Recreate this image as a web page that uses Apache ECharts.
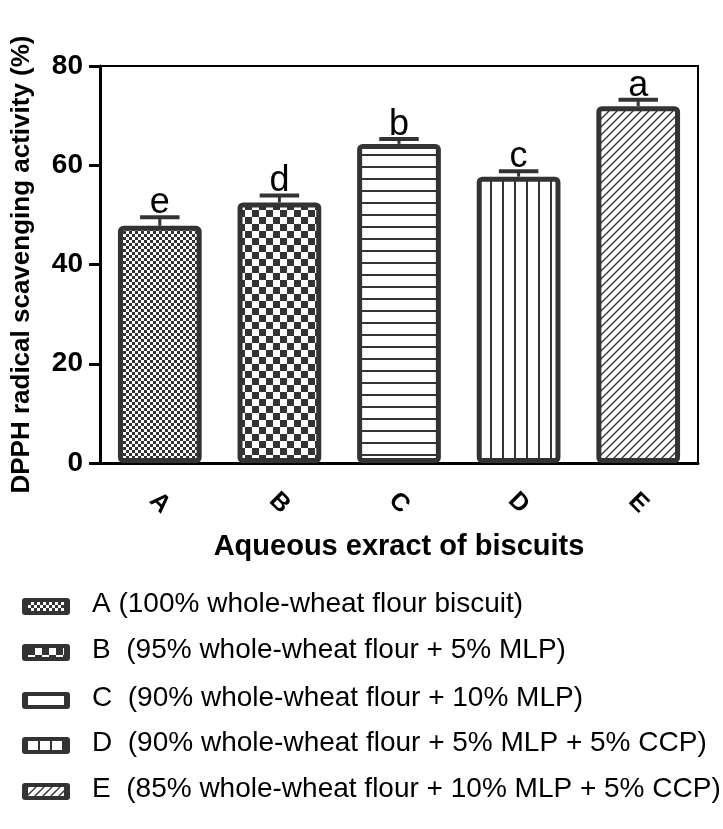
<!DOCTYPE html>
<html>
<head>
<meta charset="utf-8">
<script src="https://cdn.jsdelivr.net/npm/echarts@6/dist/echarts.min.js"></script>
<style>
  html, body { margin: 0; padding: 0; background: #fff; }
  #chart { width: 723px; height: 829px; }
</style>
</head>
<body>
<div id="chart"></div>
<script>
// valores
const categorias = ['A', 'B', 'C', 'D', 'E'];
const medias = [47.8, 52.5, 64.3, 57.7, 71.9];
const desvios = [1.7, 1.4, 1.0, 1.1, 1.3];
const letras = ['e', 'd', 'b', 'c', 'a'];
const legendas = [
  'A (100% whole-wheat flour biscuit)',
  'B  (95% whole-wheat flour + 5% MLP)',
  'C  (90% whole-wheat flour + 10% MLP)',
  'D  (90% whole-wheat flour + 5% MLP + 5% CCP)',
  'E  (85% whole-wheat flour + 10% MLP + 5% CCP)'
];

const ESCURO = '#333333';

// cria um padrão de preenchimento a partir de um canvas
function padrao(tipo) {
  const c = document.createElement('canvas');
  let ctx;
  if (tipo === 'xadrezFino') {
    c.width = 6; c.height = 6;
    ctx = c.getContext('2d');
    ctx.fillStyle = '#fff'; ctx.fillRect(0, 0, 6, 6);
    ctx.fillStyle = ESCURO;
    ctx.fillRect(0, 0, 3, 3); ctx.fillRect(3, 3, 3, 3);
  } else if (tipo === 'xadrez') {
    c.width = 14; c.height = 14;
    ctx = c.getContext('2d');
    ctx.fillStyle = '#fff'; ctx.fillRect(0, 0, 14, 14);
    ctx.fillStyle = ESCURO;
    ctx.fillRect(0, 0, 7, 7); ctx.fillRect(7, 7, 7, 7);
  } else if (tipo === 'horizontal') {
    c.width = 12; c.height = 12;
    ctx = c.getContext('2d');
    ctx.fillStyle = '#fff'; ctx.fillRect(0, 0, 12, 12);
    ctx.fillStyle = ESCURO; ctx.fillRect(0, 10, 12, 2);
  } else if (tipo === 'vertical') {
    c.width = 12; c.height = 12;
    ctx = c.getContext('2d');
    ctx.fillStyle = '#fff'; ctx.fillRect(0, 0, 12, 12);
    ctx.fillStyle = ESCURO; ctx.fillRect(10, 0, 2, 12);
  } else {
    c.width = 8; c.height = 8;
    ctx = c.getContext('2d');
    ctx.fillStyle = '#fff'; ctx.fillRect(0, 0, 8, 8);
    ctx.strokeStyle = ESCURO; ctx.lineWidth = 1.4;
    ctx.beginPath();
    ctx.moveTo(-1, 9); ctx.lineTo(9, -1);
    ctx.moveTo(-1, 1); ctx.lineTo(1, -1);
    ctx.moveTo(7, 9); ctx.lineTo(9, 7);
    ctx.stroke();
  }
  return { image: c, repeat: 'repeat' };
}

const padroes = ['xadrezFino', 'xadrez', 'horizontal', 'vertical', 'diagonal'].map(padrao);

const chart = echarts.init(document.getElementById('chart'));

// legenda desenhada à mão (ícone + texto)
const legendaY = [606, 652, 700, 745, 791];
const graficosLegenda = [];
legendas.forEach((txt, i) => {
  graficosLegenda.push({
    type: 'rect', left: 22, top: legendaY[i] - 8,
    shape: { width: 48, height: 17, r: 3 },
    style: { fill: ESCURO }
  });
  graficosLegenda.push({
    type: 'rect', left: 28, top: legendaY[i] - 4,
    shape: { width: 36, height: 9 },
    style: { fill: padroes[i] }
  });
  graficosLegenda.push({
    type: 'text', left: 92, top: legendaY[i] - 16,
    style: { text: txt, font: '28px "Liberation Sans", Arial, sans-serif', fill: '#000' }
  });
});

chart.setOption({
  animation: false,
  grid: {
    left: 100, right: 25, top: 66, bottom: 366,
    show: true, borderColor: '#000', borderWidth: 2, backgroundColor: 'transparent'
  },
  xAxis: {
    type: 'category',
    data: categorias,
    name: 'Aqueous exract of biscuits',
    nameLocation: 'middle',
    nameGap: 69,
    nameTextStyle: { fontFamily: 'Liberation Sans', fontWeight: 'bold', fontSize: 29, color: '#000' },
    axisLine: { lineStyle: { color: '#000', width: 3 } },
    axisTick: { alignWithLabel: true, length: 10, lineStyle: { color: '#000', width: 3 } },
    axisLabel: {
      rotate: -45, margin: 40, align: 'center', verticalAlign: 'middle', color: '#000',
      fontFamily: 'Liberation Sans', fontWeight: 'bold', fontSize: 25
    }
  },
  yAxis: {
    type: 'value',
    min: 0, max: 80, interval: 20,
    name: 'DPPH radical scavenging activity (%)',
    nameLocation: 'middle',
    nameGap: 65,
    nameTextStyle: { fontFamily: 'Liberation Sans', fontWeight: 'bold', fontSize: 26, color: '#000' },
    axisLine: { show: true, lineStyle: { color: '#000', width: 3 } },
    axisTick: { show: true, length: 11, lineStyle: { color: '#000', width: 3 } },
    splitLine: { show: false },
    axisLabel: {
      margin: 17, color: '#000',
      fontFamily: 'Liberation Sans', fontWeight: 'bold', fontSize: 28
    }
  },
  series: [
    {
      type: 'bar',
      barWidth: '70%',
      data: medias.map((v, i) => ({
        value: v,
        itemStyle: {
          color: padroes[i], borderColor: ESCURO, borderWidth: 5, borderRadius: 3
        }
      }))
    },
    {
      type: 'custom',
      z: 5,
      data: medias.map((v, i) => [i, v, v + desvios[i]]),
      renderItem: (params, api) => {
        const i = api.value(0);
        const topo = api.coord([i, api.value(1)]);
        const cap = api.coord([i, api.value(2)]);
        const meia = api.size([1, 0])[0] * 0.165;
        return {
          type: 'group',
          children: [
            { type: 'line', shape: { x1: topo[0], y1: topo[1], x2: cap[0], y2: cap[1] },
              style: { stroke: ESCURO, lineWidth: 3 } },
            { type: 'line', shape: { x1: cap[0] - meia, y1: cap[1], x2: cap[0] + meia, y2: cap[1] },
              style: { stroke: ESCURO, lineWidth: 4 } },
            { type: 'text', x: cap[0], y: cap[1] + 4,
              style: { text: letras[i], fill: '#000', align: 'center', verticalAlign: 'bottom',
                font: '36px "Liberation Sans", Arial, sans-serif' } }
          ]
        };
      }
    }
  ],
  graphic: graficosLegenda
});
</script>
</body>
</html>
